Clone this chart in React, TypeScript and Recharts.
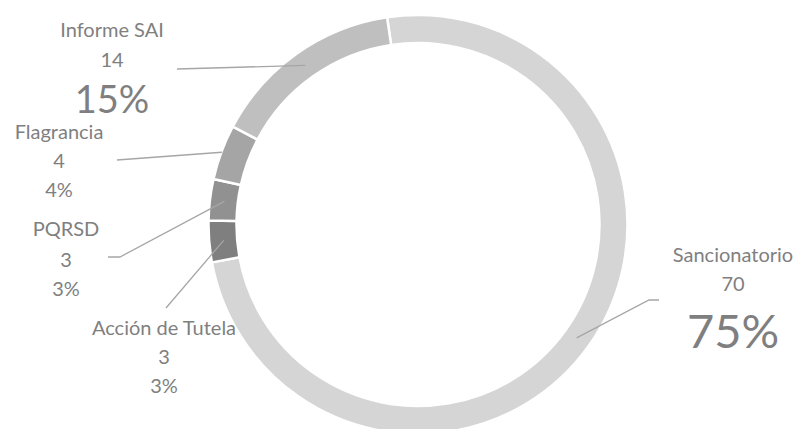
/** Donut chart of cases by origin: Sancionatorio, Tutela, PQRSD, Flagrancia, Informe SAI */
import { PieChart, Pie, Cell } from 'recharts'

const categories = ['Sancionatorio', 'Acción de Tutela', 'PQRSD', 'Flagrancia', 'Informe SAI']
const counts = [70, 3, 3, 4, 14]
const percentLabels = ['75%', '3%', '3%', '4%', '15%']
const sliceColors = ['#d5d5d5', '#7f7f7f', '#919191', '#a5a5a5', '#bfbfbf']

const data = categories.map((name, i) => ({ name, value: counts[i] }))

// hand-placed label blocks (Excel-style moved labels)
interface LabelSpot {
  x: number
  baselines: [number, number, number]
  pctSize: number
  anchorR: number
  line: [number, number][]
}
const labelSpots: LabelSpot[] = [
  { x: 733, baselines: [262, 291, 348], pctSize: 47, anchorR: 195, line: [[659, 300], [649, 300]] },
  { x: 164, baselines: [335, 364, 393], pctSize: 20, anchorR: 195, line: [[166, 308]] },
  { x: 66,  baselines: [236, 267, 296], pctSize: 20, anchorR: 195, line: [[108, 257], [120, 257]] },
  { x: 59,  baselines: [139, 168, 197], pctSize: 20, anchorR: 209, line: [[117, 160]] },
  { x: 112, baselines: [37, 67, 113],   pctSize: 38, anchorR: 195, line: [[177, 69]] },
]

const TEXT = '#7f7f7f'
const FONT = 'Lato, "Open Sans", sans-serif'
const RAD = Math.PI / 180

// eslint-disable-next-line @typescript-eslint/no-explicit-any
function SliceLabel({ cx, cy, midAngle, index }: any) {
  const spot = labelSpots[index]
  if (!spot) return null
  const ax = cx + spot.anchorR * Math.cos(-midAngle * RAD)
  const ay = cy + spot.anchorR * Math.sin(-midAngle * RAD)
  const pts = [...spot.line, [ax, ay]].map(p => p.join(',')).join(' ')
  return (
    <g>
      <polyline points={pts} fill="none" stroke="#a6a6a6" strokeWidth={1.3} />
      <text x={spot.x} y={spot.baselines[0]} textAnchor="middle" fill={TEXT} fontSize={20} fontFamily={FONT}>
        {categories[index]}
      </text>
      <text x={spot.x} y={spot.baselines[1]} textAnchor="middle" fill={TEXT} fontSize={20} fontFamily={FONT}>
        {counts[index]}
      </text>
      <text x={spot.x} y={spot.baselines[2]} textAnchor="middle" fill={TEXT} fontSize={spot.pctSize} fontFamily={FONT}>
        {percentLabels[index]}
      </text>
    </g>
  )
}

export default function App() {
  return (
    <div style={{ position: 'absolute', left: 0, top: 0, width: 804, height: 429, background: '#fff' }}>
      <PieChart width={804} height={429} margin={{ top: 0, right: 0, bottom: 0, left: 0 }}>
        <Pie
          data={data}
          dataKey="value"
          nameKey="name"
          cx={418}
          cy={224.5}
          innerRadius={181.5}
          outerRadius={209.5}
          startAngle={98.5}
          endAngle={-261.5}
          stroke="#ffffff"
          strokeWidth={2.5}
          label={<SliceLabel />}
          labelLine={false}
          isAnimationActive={false}
        >
          {data.map((d, i) => (
            <Cell key={d.name} fill={sliceColors[i]} />
          ))}
        </Pie>
      </PieChart>
    </div>
  )
}
